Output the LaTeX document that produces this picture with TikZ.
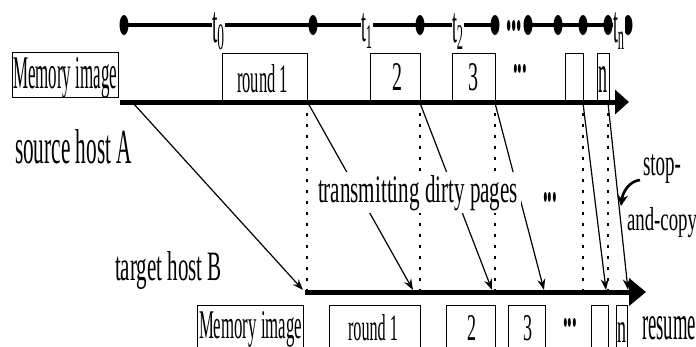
\documentclass[tikz,border=0pt]{standalone}
\usepackage{fontspec}
\setmainfont{Liberation Serif}
\usepackage{graphicx}
\usetikzlibrary{arrows.meta}
\newcommand{\fitt}[3]{\resizebox{#1pt}{#2pt}{#3}}
\begin{document}
\begin{tikzpicture}[x=1pt,y=-1pt,
  lbl/.style={inner sep=0pt, outer sep=0pt, anchor=base west},
  boxn/.style={draw, line width=0.9pt, inner sep=0pt, outer sep=0pt, anchor=north west},
  timeline/.style={line width=4pt},
  hostline/.style={line width=5pt},
  dotl/.style={line width=2pt, dash pattern=on 3pt off 8pt},
  xfer/.style={line width=1.2pt, -{Stealth[length=11pt,width=8pt]}}]
\useasboundingbox (0,0) rectangle (696,346);
\clip (0,0) rectangle (696,346);

% ---- top timeline ----
\draw[timeline] (124,25) -- (495,25);
\draw[timeline] (528,25) -- (628,25);
\foreach \x in {124,313,420,495,528,558,583,608,628}
  \fill (\x,25) ellipse [x radius=4.5pt, y radius=10pt];
\node[lbl] (tdots) at (506,30) {\fitt{16}{10}{\bfseries ...}};
\node[lbl, fill=white] (t0) at (212,42) {\fitt{13}{30}{t\textsubscript{0}}};
\node[lbl, fill=white] (t1) at (361,41) {\fitt{12}{28}{t\textsubscript{1}}};
\node[lbl, fill=white] (t2) at (452,42) {\fitt{12}{29}{t\textsubscript{2}}};
\node[lbl, fill=white] (tn) at (613,42) {\fitt{12}{30}{t\textsubscript{n}}};

% ---- coordinates on host lines ----
\coordinate (a0) at (120,102);
\coordinate (a1) at (629,102);
\coordinate (b0) at (305,292);
\coordinate (b1) at (646,292);

% ---- dotted verticals ----
\foreach \x/\n in {307/1,420/2,495/3,583/4,608/5}{
  \coordinate (du\n) at (\x,102);
  \coordinate (dd\n) at (\x,292);
  \draw[dotl] (du\n) -- (dd\n);
}

% ---- transfer arrows ----
\coordinate (s0) at (133,103); \coordinate (e0) at (303,290);
\coordinate (s1) at (308,103); \coordinate (e1) at (413,290);
\coordinate (s2) at (420,103); \coordinate (e2) at (492,290);
\coordinate (s3) at (495,103); \coordinate (e3) at (544,290);
\coordinate (s4) at (583,103); \coordinate (e4) at (606,290);
\coordinate (s5) at (608,103); \coordinate (e5) at (628,290);
\foreach \i in {0,...,5} \draw[xfer] (s\i) -- (e\i);

% ---- middle texts ----
\node[lbl, fill=white, inner sep=3pt] (tdp) at (315,202) {\fitt{200}{27}{transmitting dirty pages}};
\node[lbl] (mdots) at (543,201) {\fitt{14}{9}{\bfseries ...}};
\node[lbl] (srcA) at (15,163) {\fitt{117}{34}{source host A}};
\node[lbl] (tgtB) at (115,280) {\fitt{107}{29}{target host B}};
\node[lbl] (stop) at (643,175) {\fitt{38}{21}{stop-}};
\node[lbl] (andc) at (627,230) {\fitt{70}{23}{and-copy}};
\coordinate (cs) at (640,180);
\coordinate (ce) at (621,206);
\draw[line width=2.6pt, -{Stealth[length=11pt,width=11pt]}] (cs) .. controls (630,181) and (623,191) .. (ce);

% ---- top boxes (source) ----
\node[boxn, minimum width=106pt, minimum height=45pt] (memA) at (12,52) {};
\node[boxn, minimum width=85pt, minimum height=49pt] (r1A) at (222,53) {};
\node[boxn, minimum width=50pt, minimum height=49pt] (b2A) at (370,53) {};
\node[boxn, minimum width=43pt, minimum height=49pt] (b3A) at (452,53) {};
\node[boxn, minimum width=18pt, minimum height=49pt] (beA) at (565,53) {};
\node[boxn, minimum width=12pt, minimum height=49pt] (bnA) at (597,53) {};
\node[lbl] (memAt) at (13,88) {\fitt{104}{31}{Memory image}};
\node[lbl] (r1At) at (237,92) {\fitt{51}{28}{round 1}};
\node[lbl] (b2At) at (392,90) {\fitt{10}{27}{2}};
\node[lbl] (b3At) at (468,90) {\fitt{10}{27}{3}};
\node[lbl] (adots) at (513,72) {\fitt{14}{8}{\bfseries ...}};
\node[lbl] (bnAt) at (598,92) {\fitt{9}{26}{n}};

% ---- bottom boxes (target) ----
\node[boxn, minimum width=106pt, minimum height=60pt] (memB) at (197,305) {};
\node[boxn, minimum width=91pt, minimum height=60pt] (r1B) at (329,305) {};
\node[boxn, minimum width=49pt, minimum height=60pt] (b2B) at (446,305) {};
\node[boxn, minimum width=37pt, minimum height=60pt] (b3B) at (508,305) {};
\node[boxn, minimum width=17pt, minimum height=60pt] (beB) at (591,305) {};
\node[boxn, minimum width=11pt, minimum height=60pt] (bnB) at (616,305) {};
\node[lbl] (memBt) at (199,338) {\fitt{103}{27}{Memory image}};
\node[lbl] (r1Bt) at (348,340) {\fitt{50}{26}{round 1}};
\node[lbl] (b2Bt) at (467,340) {\fitt{9}{25}{2}};
\node[lbl] (b3Bt) at (523,340) {\fitt{9}{25}{3}};
\node[lbl] (bdots) at (563,326) {\fitt{14}{8}{\bfseries ...}};
\node[lbl] (bnBt) at (617,342) {\fitt{9}{20}{n}};
\node[lbl] (res) at (642,339) {\fitt{54}{23}{resume}};

% ---- host lines ----
\draw[hostline, -{Triangle[length=14pt,width=24pt]}] (a0) -- (a1);
\draw[hostline, -{Triangle[length=17pt,width=27pt]}] (b0) -- (b1);
\end{tikzpicture}
\end{document}
